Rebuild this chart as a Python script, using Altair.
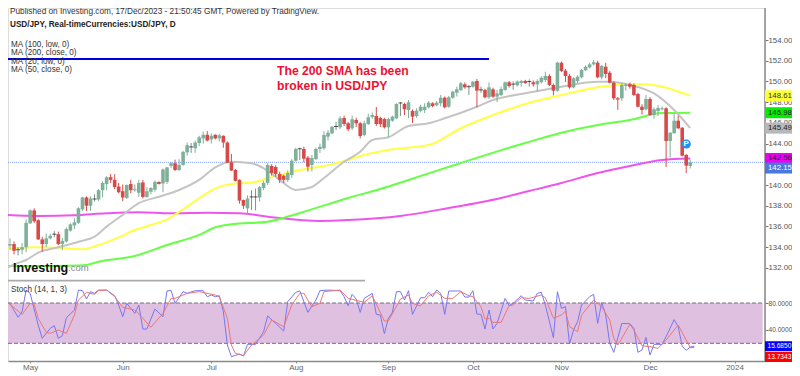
import altair as alt
import pandas as pd

opens = [134.35,134.15,134.30,133.72,133.75,134.00,136.30,137.55,136.60,134.75,
134.30,134.85,135.20,135.25,134.30,134.55,135.60,136.10,136.35,137.65,
138.80,138.00,138.60,138.60,139.50,140.10,140.75,140.50,139.85,139.40,
138.75,140.10,139.50,139.25,140.25,138.85,139.35,139.55,140.30,140.15,
140.30,141.85,142.10,141.45,141.95,143.15,143.63,143.55,144.05,144.50,
144.85,144.40,144.85,144.50,144.75,144.10,142.20,141.45,140.50,138.55,
137.75,138.80,138.80,138.80,139.71,140.20,141.84,141.74,141.06,140.90,
140.49,140.97,142.35,143.46,143.48,142.64,141.93,142.51,143.48,143.55,
144.67,144.99,145.60,145.57,146.47,145.96,145.48,146.28,145.96,144.83,
145.89,146.57,146.66,146.47,146.37,145.57,146.21,146.44,147.86,147.82,
147.24,147.15,146.66,147.15,147.24,147.50,147.89,147.70,147.89,148.43,
147.56,148.43,148.91,149.17,149.72,149.45,149.49,150.04,149.15,149.17,
148.47,149.24,148.53,148.69,149.17,149.92,149.70,149.63,149.85,150.04,
149.95,149.92,149.72,149.92,150.14,150.53,149.66,149.11,151.81,151.04,
150.55,149.43,150.04,150.40,151.08,151.36,151.65,151.81,150.40,151.42,
150.84,149.88,148.37,148.37,149.56,149.75,149.66,148.79,147.56,147.31,
148.30,146.76,147.15,147.31,147.41,144.25,145.00,146.21,145.53,142.90,141.84]
closes = [134.25,134.30,133.65,133.75,134.00,136.35,137.55,136.50,134.75,134.30,
134.85,135.10,135.25,134.30,134.60,135.75,136.20,136.40,137.75,138.80,
138.00,138.70,138.65,139.50,140.20,140.75,140.50,139.80,139.30,138.80,
140.00,139.50,139.60,140.20,138.85,139.40,139.70,140.30,140.10,141.50,
141.70,142.10,141.45,141.95,143.20,143.85,143.68,144.10,144.60,144.85,
144.30,144.75,144.50,144.80,144.10,142.15,141.40,140.40,138.50,138.00,
138.70,138.85,138.85,139.80,140.20,141.93,141.16,141.06,140.49,140.50,
141.16,142.35,143.48,143.50,142.54,141.77,142.61,143.48,143.70,144.83,
145.05,145.63,145.65,146.44,145.89,145.38,146.35,145.96,144.73,145.96,
146.54,146.76,145.89,145.89,145.57,146.37,146.60,147.82,147.92,147.31,
147.99,146.60,147.18,147.56,147.56,147.95,147.63,147.95,148.43,147.50,
148.47,149.01,149.24,149.82,149.43,149.49,149.97,149.11,149.19,148.47,
149.43,148.53,148.85,149.27,149.92,149.56,149.74,149.98,150.04,149.85,
149.99,149.72,150.04,150.36,150.53,149.66,149.11,151.81,151.01,150.53,
149.43,150.30,150.46,151.10,151.42,151.65,151.85,150.40,151.49,150.72,
149.88,148.37,148.25,149.66,149.68,149.49,148.69,147.56,147.24,148.30,
146.76,147.31,147.44,147.41,144.25,145.05,146.21,145.48,142.83,141.87,142.19]
highs = [134.65,134.85,134.55,134.00,134.40,136.70,137.65,137.75,136.70,135.00,
135.30,135.30,135.55,135.50,134.90,135.90,136.30,136.80,137.85,138.85,
138.90,138.90,139.10,139.60,140.35,140.85,141.05,141.05,140.20,140.05,
140.05,140.50,140.05,140.50,140.50,139.80,139.80,140.45,140.35,141.60,
141.75,142.20,142.45,142.50,143.30,144.10,144.05,144.30,144.75,145.15,
145.20,145.00,144.90,144.95,144.80,144.20,143.00,141.55,140.55,138.60,
139.00,139.50,139.65,139.90,140.40,142.10,142.00,141.90,141.30,141.00,
141.40,142.50,143.60,143.60,143.70,142.80,142.90,143.60,144.00,145.20,
145.30,145.70,146.10,146.65,146.70,146.10,146.70,146.50,146.10,146.20,
146.90,147.00,147.53,146.60,146.50,146.50,146.70,147.90,148.00,147.95,
148.20,147.30,147.40,147.75,147.90,148.10,148.00,148.10,148.70,148.55,
148.60,149.10,149.50,149.95,149.90,149.65,150.05,150.25,149.50,149.30,
149.90,149.40,149.20,149.50,150.00,150.05,150.00,150.10,150.15,150.15,
150.20,150.10,150.20,150.50,150.94,150.70,149.80,151.90,151.90,151.20,
150.70,150.40,150.60,151.20,151.55,151.80,152.07,152.00,151.60,151.80,
151.00,150.00,148.50,149.80,149.85,149.90,149.80,148.90,147.80,148.70,
148.50,147.50,147.70,147.60,147.50,145.10,146.90,146.70,145.60,143.00,142.45]
lows = [133.73,133.75,133.30,133.20,133.30,133.50,136.25,136.35,134.70,133.55,
134.00,134.75,134.95,134.20,133.70,134.45,135.50,135.75,136.25,137.50,
137.50,137.50,138.40,138.45,138.80,139.50,140.20,139.60,139.20,138.45,
138.65,139.20,139.35,138.85,138.70,138.75,139.10,139.35,140.05,139.30,
140.10,141.65,141.35,141.35,141.85,142.85,143.10,143.10,143.75,144.00,
144.20,144.00,144.40,144.20,143.60,142.10,141.35,140.35,138.20,137.70,
137.25,137.60,137.55,138.40,139.50,140.00,140.90,140.80,140.20,140.20,
140.30,140.70,142.25,142.40,142.20,141.30,141.30,142.40,143.10,143.40,
144.30,144.90,145.30,145.40,145.70,145.20,145.30,145.60,144.50,144.70,
145.80,146.40,145.70,145.60,145.45,144.64,146.10,146.35,146.65,146.75,
146.45,146.00,146.50,147.00,146.95,147.40,147.50,147.60,147.60,147.40,
147.45,148.30,148.55,149.05,149.30,148.70,149.40,147.50,148.90,148.35,
148.30,148.40,148.00,148.60,149.10,149.40,149.20,149.50,149.50,149.75,
149.50,149.50,149.00,149.80,149.95,149.55,148.65,149.00,150.90,149.95,
149.30,149.35,149.80,150.30,151.00,151.25,151.55,150.30,150.20,150.30,
149.80,148.20,147.26,148.10,149.10,149.30,148.60,147.50,146.80,147.20,
146.70,146.40,146.65,147.20,141.74,142.64,144.95,145.40,142.75,141.15,141.60]
assert len(opens) == len(closes) == len(highs) == len(lows) == 171

ma200_bar = [0,8,17,25,33,41,50,58,66,78,85,98,110,123,130,138,147,155,163,170]
ma200_val = [137.11,137.01,137.08,137.27,137.37,137.27,137.33,137.27,136.89,136.53,136.62,137.01,137.78,138.75,139.42,140.20,141.16,141.84,142.42,142.56]
ma100_bar = [0,7,15,20,23,32,40,48,52,56,65,73,85,93,100,113,129,138,147,155,163,170]
ma100_val = [132.18,132.18,132.21,132.28,132.60,133.15,134.21,135.18,135.92,136.21,136.46,137.30,138.75,139.62,140.49,142.13,144.06,145.05,145.80,146.28,146.95,146.98]
ma50_bar = [0,7,15,19,23,28,32,36,40,44,48,52,56,61,65,71,80,85,88,96,105,113,121,129,138,147,155,159,163,170]
ma50_val = [133.80,133.99,133.89,133.80,134.21,134.95,135.66,136.14,136.69,137.66,138.72,139.68,140.10,140.22,140.65,141.29,141.93,142.42,142.80,143.45,143.86,145.48,146.76,147.82,148.69,149.43,149.72,149.72,149.49,148.61]
ma20_bar = [0,3,5,8,13,18,22,25,29,33,38,43,48,52,56,61,65,68,72,76,79,84,88,91,95,100,105,109,117,121,129,138,147,150,155,161,166,170]
ma20_val = [131.99,132.47,132.76,133.47,133.99,134.53,135.01,135.98,137.11,138.24,138.87,139.52,140.49,141.71,142.25,142.10,141.38,140.49,139.52,139.81,140.68,142.25,143.22,144.35,144.61,145.70,145.96,146.44,147.56,148.21,148.85,149.49,149.97,149.97,149.66,148.85,147.24,145.49]

k_bar = [0,1,3,4,5,6,8,9,11,12,13,14,15,17,18,19,20,21,22,23,25,27,28,29,30,31,32,33,34,35,37,39,40,41,42,44,45,47,49,50,51,52,53,54,55,56,58,59,60,62,64,65,67,69,70,72,73,75,77,78,80,83,84,85,86,87,88,89,91,92,93,94,95,96,97,98,
99,100,101,103,104,105,106,107,108,109,110,112,113,114,115,116,117,118,119,120,121,122,124,125,126,128,129,131,132,133,134,136,137,138,139,140,141,142,143,145,146,147,148,149,150,151,153,155,156,157,158,159,160,161,163,164,166,167,168,169,170,171]
k_val = [79.5,79.5,58.7,67.1,99.3,94.4,47.3,27.4,42.3,46.3,27.4,31.4,58.2,69.6,99.3,98.4,86,96.9,94.4,99.3,99.3,90.9,77,59.7,79.5,72.1,64.6,77,41.3,41.3,71.1,59.7,97.9,98.8,79.5,96.9,94.4,98.4,98.4,89.4,91.9,89.4,90.9,67.1,17.5,0.1,4.1,1.1,18.5,18.5,37.3,60.7,49.7,38.3,82,95.9,97.9,66.1,84.5,98.4,99.3,98.4,89.4,76,92.9,86,66.1,86.9,94.4,63.1,62.1,34.4,57.2,66.1,96.9,96.9,
84.5,98.4,63.1,87.9,87.9,95.9,89.4,99.3,94.4,63.1,97.9,97.9,97.9,88.9,88.9,98.4,63.6,63.1,41.3,69.6,41.3,49.7,86.9,76,79.5,90.9,84.5,83,94.4,95.9,77,28.4,96.9,72.1,74.5,19,39.8,52.2,77,89.4,92.9,49.7,81,62.1,20,6.6,49.7,49.2,42.3,6.6,10.1,28.9,2.6,18.5,18.5,29.9,55.2,44.8,15.5,9.6,14.5,15.69]
d_bar = [0,1,4,6,7,8,10,11,13,15,17,18,20,22,23,25,27,29,32,34,36,39,41,42,45,48,52,53,55,56,57,59,61,64,66,69,71,73,74,76,78,79,83,85,89,91,94,95,98,
100,101,103,105,107,109,111,113,115,116,118,119,120,121,123,125,126,128,130,133,134,136,138,139,140,142,143,146,148,150,151,152,155,156,158,160,162,164,167,170,171]
d_val = [82,78,63.1,79.5,78,57.2,36.4,34.9,39.8,34.9,62.1,84.5,95.9,92.9,98.4,99.3,89.4,73.6,69.6,57.2,43.8,64.6,86.9,86.9,94.4,96.9,91.9,89.4,57.2,17.5,5.1,1.6,17.5,32.4,54.7,44.8,77,94.4,94.4,74.5,79.5,96.9,99.3,86.9,81,90.9,53.2,53.2,86,
91.9,79.5,75.5,90.9,95.9,86.9,86.9,96.9,90.9,89.4,74.5,56.2,57.2,51.2,51.2,76,77,87.9,86.9,91.9,87.9,57.2,62.1,68.1,44.8,37.3,62.1,84.5,74.5,54.7,27.4,17.5,48.3,39.8,16.5,15,12.5,24.9,47.3,13.5,13.73]
assert len(k_bar) == len(k_val) and len(d_bar) == len(d_val)

month_bars = [6,29,51,72,95,116,138,160,181]
month_names = ["May","Jun","Jul","Aug","Sep","Oct","Nov","Dec","2024"]
price_ticks = list(range(132,155,2))
stoch_ticks = [40,80]

badge_text = ["148.61","146.98","145.49","142.56","142.15"]
badge_pos = [148.61,146.98,145.49,142.56,141.64]
badge_bg = ["#ffff33","#00ee00","#b8b8b8","#ee00ee","#4a78dd"]
badge_fg = ["#333333","#222222","#222222","#222222","#ffffff"]
sbadge_text = ["15.6850","13.7343"]
sbadge_pos = [15.685,-0.36]
sbadge_bg = ["#0000ff","#ff0000"]
sbadge_fg = ["#ffffff","#ffffff"]

FONT = "Liberation Sans"
LEFT, RIGHT = 0.497, 188.57
xscale = alt.Scale(domain=[LEFT,RIGHT], nice=False, zero=False)
expr = "{" + ",".join(f"'{b}':'{n}'" for b,n in zip(month_bars,month_names)) + "}[datum.value]"
xaxis = alt.Axis(values=month_bars, labelExpr=expr, title=None, grid=False, domainColor="#8a8a8a", domainWidth=1.5,
                 tickColor="#8a8a8a", tickSize=2, labelColor="#666666", labelFont=FONT, labelFontSize=8, labelPadding=0)
def X(f): return alt.X(f, type="quantitative", scale=xscale, axis=xaxis)
pscale = alt.Scale(domain=[130.54,157.09], range=[275,0], nice=False, zero=False)
paxis = alt.Axis(values=price_ticks, format=".2f", orient="right", title=None, grid=False, domain=False, tickColor="#777777", tickSize=3,
                 labelColor="#555555", labelFont=FONT, labelFontSize=7.8, labelPadding=0)
def PY(f): return alt.Y(f, type="quantitative", scale=pscale, axis=paxis)
sscale = alt.Scale(domain=[-6.3,109.8], range=[353,275], nice=False, zero=False)
saxis = alt.Axis(values=stoch_ticks, format=".4f", orient="right", title=None, grid=False, domain=False, tickColor="#777777", tickSize=3,
                 labelColor="#555555", labelFont=FONT, labelFontSize=6.6, labelPadding=0)
def SY(f): return alt.Y(f, type="quantitative", scale=sscale, axis=saxis)

bars = pd.DataFrame({"i":range(171),"o":opens,"h":highs,"l":lows,"c":closes})
bars["dir"] = ["doji" if abs(c-o)<0.07 else ("up" if c>o else "down") for o,c in zip(opens,closes)]
wick_col = alt.Color("dir:N", legend=None, scale=alt.Scale(domain=["up","down","doji"], range=["#7fb09a","#d84a4a","#7f8f88"]))
body_col = alt.Color("dir:N", legend=None, scale=alt.Scale(domain=["up","down"], range=["#00b86b","#ff0000"]))

def ma(b, v, color):
    return alt.Chart(pd.DataFrame({"i":b,"v":v})).mark_line(color=color, strokeWidth=2, interpolate="monotone").encode(x=X("i"), y=PY("v"))
def hline(a, b, v, color, width, dash=None):
    kw = {"strokeDash":dash} if dash else {}
    return alt.Chart(pd.DataFrame({"a":[a],"b":[b],"v":[v]})).mark_rule(color=color, strokeWidth=width, **kw).encode(x=X("a"), x2="b:Q", y=PY("v"))

axis_line = alt.Chart(pd.DataFrame({"a":[RIGHT],"u":[130.54],"w":[157.09]})).mark_rule(color="#8a8a8a", strokeWidth=1.5).encode(x=X("a"), y=PY("u"), y2="w:Q")
price = alt.layer(
    axis_line,
    hline(-1,RIGHT,142.19,"#7f9df0",1,[1,1]),
    hline(-1,89.2,130.77,"#aaaaaa",1.8),
    ma(ma200_bar,ma200_val,"#ee55ee"),
    ma(ma50_bar,ma50_val,"#ffff44"),
    ma(ma100_bar,ma100_val,"#66ff44"),
    ma(ma20_bar,ma20_val,"#c4c4c4"),
    alt.Chart(bars).mark_rule(strokeWidth=1).encode(x=X("i"), y=PY("l"), y2="h:Q", color=wick_col),
    alt.Chart(bars).transform_filter("datum.dir!='doji'").mark_rule(strokeWidth=3.6).encode(x=X("i"), y=PY("o"), y2="c:Q", color=body_col),
    alt.Chart(bars).transform_filter("datum.dir=='doji'").mark_tick(orient="horizontal", size=4, thickness=1, color="#111111").encode(x=X("i"), y=PY("c")),
    hline(-1,120,152.17,"#0000dd",2),
    alt.Chart(pd.DataFrame({"i":[169],"v":[143.96]})).mark_point(filled=True, size=85, color="#1e90f0", opacity=1).encode(x=X("i"), y=PY("v")),
    alt.Chart(pd.DataFrame({"i":[169],"v":[143.96]})).mark_text(text="P", color="#ffffff", fontSize=8, fontWeight="bold", font=FONT).encode(x=X("i"), y=PY("v")),
    alt.Chart(pd.DataFrame({"p":badge_pos,"bg":badge_bg})).mark_rule(strokeWidth=11).encode(x=alt.value(757), x2=alt.value(784), y=PY("p"), color=alt.Color("bg:N", scale=None)),
    alt.Chart(pd.DataFrame({"p":badge_pos,"t":badge_text,"fg":badge_fg})).mark_text(align="left", fontSize=7.8, font=FONT).encode(x=alt.value(760), y=PY("p"), text="t:N", color=alt.Color("fg:N", scale=None)),
)

def shline(v):
    return alt.Chart(pd.DataFrame({"a":[-1],"b":[188],"v":[v]})).mark_rule(color="#7a6a80", strokeWidth=1, strokeDash=[4,2]).encode(x=X("a"), x2="b:Q", y=SY("v"))
stoch = alt.layer(
    alt.Chart(pd.DataFrame({"a":[-1],"b":[188],"u":[20],"w":[80]})).mark_rect(color="#e0c0e0").encode(x=X("a"), x2="b:Q", y=SY("u"), y2="w:Q"),
    shline(80), shline(20),
    alt.Chart(pd.DataFrame({"i":k_bar,"v":k_val})).mark_line(color="#7777ee", strokeWidth=1).encode(x=X("i"), y=SY("v")),
    alt.Chart(pd.DataFrame({"i":d_bar,"v":d_val})).mark_line(color="#ee7777", strokeWidth=1).encode(x=X("i"), y=SY("v")),
    alt.Chart(pd.DataFrame({"u":[-6.3],"w":[109.8],"a":[RIGHT]})).mark_rule(color="#8a8a8a", strokeWidth=1.5).encode(x=X("a"), y=SY("u"), y2="w:Q"),
    alt.Chart(pd.DataFrame({"p":sbadge_pos,"bg":sbadge_bg})).mark_rule(strokeWidth=10).encode(x=alt.value(757), x2=alt.value(784), y=SY("p"), color=alt.Color("bg:N", scale=None)),
    alt.Chart(pd.DataFrame({"p":sbadge_pos,"t":sbadge_text,"fg":sbadge_fg})).mark_text(align="left", fontSize=6.6, font=FONT).encode(x=alt.value(759.5), y=SY("p"), text="t:N", color=alt.Color("fg:N", scale=None)),
)

blank = pd.DataFrame({"k":[0]})
def label(text, x, y, size, color="#333333", weight="normal"):
    return alt.Chart(blank).mark_text(text=text, align="left", baseline="middle", fontSize=size, color=color, fontWeight=weight, font=FONT).encode(x=alt.value(x), y=alt.value(y))
texts = alt.layer(
    label("Published on Investing.com, 17/Dec/2023 - 21:50:45 GMT, Powered by TradingView.", 2, 3.5, 8.25),
    label("USD/JPY, Real-timeCurrencies:USD/JPY, D", 2, 17, 8.2, "#222222", "bold"),
    label("MA (100, low, 0)", 3, 37, 8.15),
    label("MA (200, close, 0)", 3, 45.3, 8.15),
    label("MA (20, low, 0)", 3, 53.7, 8.15),
    label("MA (50, close, 0)", 3, 62, 8.15),
    label("The 200 SMA has been", 269, 63, 12.2, "#ee1133", "bold"),
    label("broken in USD/JPY", 269, 78, 12.2, "#ee1133", "bold"),
    label("Investing", 5, 259.5, 12.6, "#111111", "bold"),
    label(".com", 60, 260, 9.5, "#888888"),
    label("Stoch (14, 1, 3)", 3, 282, 8.2),
)

chart = alt.layer(stoch, price, texts).resolve_scale(y="independent").properties(
    width=757, height=353,
    padding={"left":0,"top":0,"right":27,"bottom":11},
    autosize=alt.AutoSizeParams(type="none"),
).configure_view(stroke=None).configure(background="#ffffff")
chart.save("out.html", embed_options={"renderer":"svg","actions":False})
